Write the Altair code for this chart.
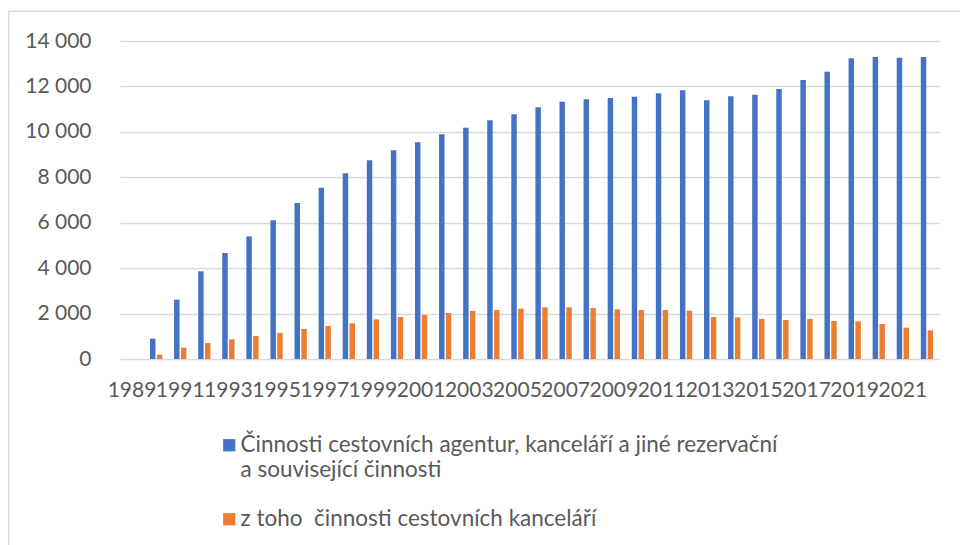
import altair as alt
import pandas as pd

years = [str(y) for y in range(1989, 2023)]
series_names = [
    "Činnosti cestovních agentur, kanceláří a jiné rezervační a související činnosti",
    "z toho\u00a0 činnosti cestovních kanceláří",
]
agentury = [0, 895, 2612, 3860, 4667, 5400, 6105, 6868, 7543, 8174, 8746, 9187,
            9539, 9891, 10184, 10507, 10771, 11080, 11329, 11432, 11490, 11549,
            11696, 11828, 11388, 11564, 11637, 11887, 12283, 12650, 13237, 13296,
            13266, 13296]
kancelare = [0, 191, 499, 704, 866, 1013, 1145, 1321, 1453, 1570, 1746, 1849,
             1937, 2025, 2113, 2157, 2216, 2275, 2275, 2245, 2187, 2157, 2157,
             2128, 1849, 1834, 1761, 1717, 1761, 1673, 1658, 1541, 1379, 1262]
y_ticks = list(range(0, 14001, 2000))
x_label_years = years[::2]
colors = ["#4472C4", "#ED7D31"]

rows = []
for y, a, k in zip(years, agentury, kancelare):
    rows.append({"rok": y, "rada": series_names[0], "hodnota": a})
    rows.append({"rok": y, "rada": series_names[1], "hodnota": k})
df = pd.DataFrame(rows)

FONT = "Lato"
TXT = "#595959"

label_expr = (
    "datum.label == '" + series_names[0] + "' ? "
    "['Činnosti cestovních agentur, kanceláří a jiné rezervační', 'a související činnosti'] "
    ": datum.label"
)

bars = alt.Chart(df).mark_bar().encode(
    x=alt.X(
        "rok:N",
        sort=years,
        title=None,
        scale=alt.Scale(paddingInner=0.49, paddingOuter=0.245),
        axis=alt.Axis(
            values=x_label_years,
            labelAngle=0,
            labelOverlap=False,
            ticks=False,
            domain=False,
            grid=False,
            labelPadding=20,
            labelFont=FONT,
            labelFontSize=21,
            labelColor=TXT,
        ),
    ),
    xOffset=alt.XOffset("rada:N", sort=series_names, scale=alt.Scale(paddingInner=0.2)),
    y=alt.Y(
        "hodnota:Q",
        title=None,
        scale=alt.Scale(domain=[0, 14000], nice=False),
        axis=alt.Axis(
            values=y_ticks,
            labelExpr="replace(format(datum.value, ','), ',', ' ')",
            ticks=False,
            domain=False,
            grid=True,
            gridColor="#d9d9d9",
            gridWidth=1.5,
            labelPadding=29,
            labelFont=FONT,
            labelFontSize=21,
            labelColor=TXT,
        ),
    ),
    color=alt.Color(
        "rada:N",
        sort=series_names,
        scale=alt.Scale(domain=series_names, range=colors),
        legend=alt.Legend(
            title=None,
            orient="none",
            legendX=98,
            legendY=393,
            direction="vertical",
            symbolType="square",
            symbolSize=150,
            symbolStrokeWidth=0,
            labelFont=FONT,
            labelFontSize=22.5,
            labelColor=TXT,
            labelLimit=800,
            labelOffset=0,
            rowPadding=26,
            labelExpr=label_expr,
        ),
    ),
)

border_df = pd.DataFrame({"k": [0]})
left_border = alt.Chart(border_df).mark_rule(color="#d9d9d9", strokeWidth=1.5).encode(
    x=alt.value(-111.2), y=alt.value(-30), y2=alt.value(700)
)
top_border = alt.Chart(border_df).mark_rule(color="#d9d9d9", strokeWidth=1.5).encode(
    x=alt.value(-112), x2=alt.value(900), y=alt.value(-29.7)
)

chart = alt.layer(bars, left_border, top_border).properties(
    width=819,
    height=318,
    autosize=alt.AutoSizeParams(type="none"),
    padding={"left": 112, "top": 33, "right": 21, "bottom": 186},
).configure_view(stroke=None)

chart.save("out.html", embed_options={"renderer": "svg", "actions": False})
